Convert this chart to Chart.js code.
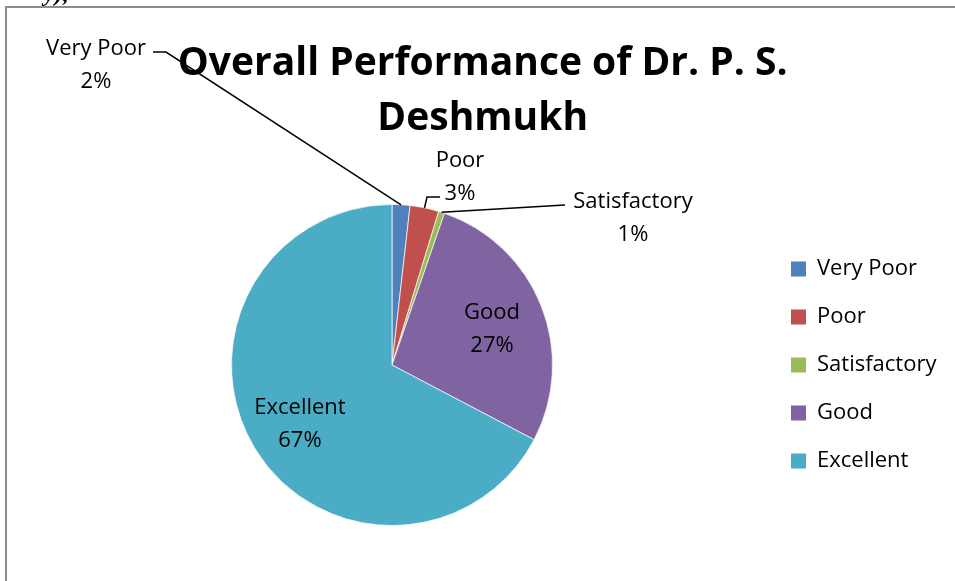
<!DOCTYPE html>
<html>
<head>
<meta charset="utf-8">
<script src="https://cdn.jsdelivr.net/npm/chart.js@4"></script>
<style>
    body { margin: 0; background: #fff; }
    #caixa { position: relative; width: 955px; height: 581px; overflow: hidden; }
    #moldura { position: absolute; left: 5px; top: 6px; right: -10px; bottom: -10px;
        border-left: 2px solid #8c8c8c; border-top: 2px solid #8c8c8c; pointer-events: none; }
    #resto { position: absolute; left: 44px; top: -20px; font: italic bold 24px "Liberation Serif", serif; }
</style>
</head>
<body>
<div id="caixa">
    <span id="resto">y),</span>
    <canvas id="graficoDesempenho"></canvas>
    <div id="moldura"></div>
</div>
<script>
// Categorias e valores (percentuais estimados da figura)
const categorias = ['Very Poor', 'Poor', 'Satisfactory', 'Good', 'Excellent'];
const percentuais = [1.8, 2.9, 0.6, 27.4, 67.3];
const rotulos = ['2%', '3%', '1%', '27%', '67%'];
const cores = ['#4F81BD', '#C0504D', '#9BBB59', '#8064A2', '#4BACC6'];
const titulo = ['Overall Performance of Dr. P. S.', 'Deshmukh'];

const fonteTexto = '"Open Sans", "Noto Sans", sans-serif';
const tamanhoLegenda = 22;
const espacoLegenda = 26;

// Largura da legenda para posicionar a pizza
const medidor = document.createElement('canvas').getContext('2d');
medidor.font = `${tamanhoLegenda}px ${fonteTexto}`;
const maiorTexto = Math.max(...categorias.map(c => medidor.measureText(c).width));
const larguraLegenda = espacoLegenda + 15 + tamanhoLegenda / 2 + maiorTexto + 10;
const paddingDireita = Math.max(0, 955 - 765 - larguraLegenda);

// Rótulos de dados com linhas de chamada (estilo Excel)
const rotulosPlugin = {
    id: 'rotulosPizza',
    afterDatasetsDraw(chart, args, opts) {
        const ctx = chart.ctx;
        const meta = chart.getDatasetMeta(0);
        ctx.save();
        ctx.font = `${tamanhoLegenda}px ${fonteTexto}`;
        ctx.fillStyle = '#000';
        ctx.strokeStyle = '#000';
        ctx.lineWidth = 1.5;
        ctx.textAlign = 'center';
        ctx.textBaseline = 'middle';
        meta.data.forEach((arco, i) => {
            const p = arco.getProps(['x', 'y', 'startAngle', 'endAngle', 'outerRadius'], true);
            const meio = (p.startAngle + p.endAngle) / 2;
            const fora = opts.fora[i];
            let tx, ty;
            if (fora) {
                ctx.beginPath();
                ctx.moveTo(p.x + Math.cos(meio) * p.outerRadius, p.y + Math.sin(meio) * p.outerRadius);
                fora.linha.forEach(pt => ctx.lineTo(pt[0], pt[1]));
                ctx.stroke();
                tx = fora.x;
                ty = fora.y + 2;
            } else {
                // dentro da fatia, a ~2/3 do raio
                tx = p.x + Math.cos(meio) * p.outerRadius * 0.67;
                ty = p.y + Math.sin(meio) * p.outerRadius * 0.67 + 4;
            }
            ctx.fillText(categorias[i], tx, ty - 16.5);
            ctx.fillText(rotulos[i], tx, ty + 16.5);
        });
        ctx.restore();
    }
};

const ctx = document.getElementById('graficoDesempenho').getContext('2d');

window.graficoDesempenho = new Chart(ctx, {
    type: 'pie',
    data: {
        labels: categorias,
        datasets: [{
            data: percentuais,
            backgroundColor: cores,
            borderColor: 'rgba(255,255,255,0.7)',
            borderWidth: 1
        }]
    },
    options: {
        responsive: true,
        maintainAspectRatio: false,
        animation: false,
        layout: {
            padding: { left: 19, right: paddingDireita, top: 0, bottom: 55 }
        },
        plugins: {
            title: {
                display: true,
                text: titulo,
                color: '#000',
                font: { family: fonteTexto, size: 39, weight: 'bold', lineHeight: 55 / 39 },
                padding: { top: 36, bottom: 58 }
            },
            legend: {
                display: true,
                position: 'right',
                fullSize: false,
                labels: {
                    boxWidth: 15,
                    boxHeight: 15,
                    padding: espacoLegenda,
                    color: '#000',
                    font: { family: fonteTexto, size: tamanhoLegenda },
                    generateLabels: (chart) => categorias.map((c, i) => ({
                        text: c,
                        fillStyle: cores[i],
                        strokeStyle: cores[i],
                        lineWidth: 0,
                        index: i
                    }))
                }
            },
            tooltip: { enabled: false },
            rotulosPizza: {
                fora: {
                    0: { x: 96, y: 63, linha: [[166, 52], [153, 52]] },
                    1: { x: 460, y: 175, linha: [[427, 197], [440, 197]] },
                    2: { x: 633, y: 216, linha: [[565, 205]] }
                }
            }
        }
    },
    plugins: [rotulosPlugin]
});
</script>
</body>
</html>
